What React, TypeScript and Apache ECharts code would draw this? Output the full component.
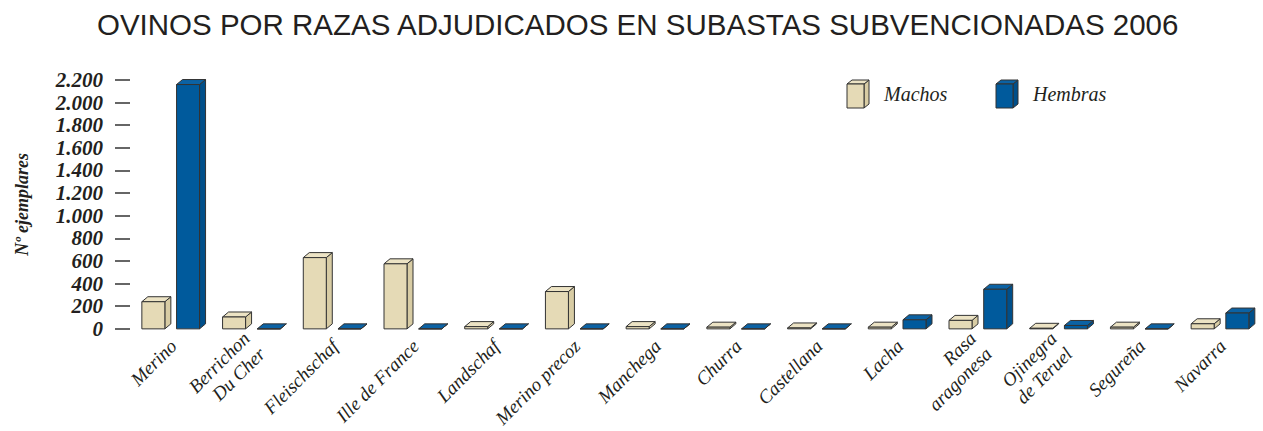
import React, { useEffect, useRef } from "react";
import * as echarts from "echarts";

const categories = [
  "Merino",
  "Berrichon\nDu Cher",
  "Fleischschaf",
  "Ille de France",
  "Landschaf",
  "Merino precoz",
  "Manchega",
  "Churra",
  "Castellana",
  "Lacha",
  "Rasa\naragonesa",
  "Ojinegra\nde Teruel",
  "Segureña",
  "Navarra",
];
const machos = [240, 105, 630, 575, 20, 330, 20, 15, 8, 15, 75, 5, 15, 45];
const hembras = [2160, 0, 0, 0, 0, 0, 0, 0, 0, 80, 350, 30, 0, 140];
const seriesNames = ["Machos", "Hembras"];

const BEIGE = { front: "#E5DAB6", side: "#D8CCA4", top: "#ECE3C4" };
const BLUE = { front: "#005A9C", side: "#004F8A", top: "#0B62A4" };
const STROKE = "#333333";

const BAR_W = 23;
const DX = 6;
const DY = 5;

function makeRender(offset: number, col: { front: string; side: string; top: string }) {
  return (params: any, api: any) => {
    const idx = api.value(0);
    const v = api.value(1);
    const base = api.coord([idx, 0]);
    const top = api.coord([idx, v]);
    const x0 = base[0] + offset;
    const yB = base[1];
    const yT = top[1];
    const w = BAR_W;
    const st = { stroke: STROKE, lineWidth: 1, lineJoin: "round" };
    return {
      type: "group",
      children: [
        {
          type: "polygon",
          shape: { points: [[x0 + w, yB], [x0 + w + DX, yB - DY], [x0 + w + DX, yT - DY], [x0 + w, yT]] },
          style: { ...st, fill: col.side },
        },
        {
          type: "polygon",
          shape: { points: [[x0, yT], [x0 + DX, yT - DY], [x0 + w + DX, yT - DY], [x0 + w, yT]] },
          style: { ...st, fill: col.top },
        },
        {
          type: "rect",
          shape: { x: x0, y: yT, width: w, height: Math.max(yB - yT, 0) },
          style: { ...st, fill: col.front },
        },
      ],
    };
  };
}

function legendBox(x: number, y: number, col: { front: string; side: string; top: string }) {
  const w = 17;
  const h = 24;
  const dx = 5;
  const dy = 4;
  const st = { stroke: STROKE, lineWidth: 1 };
  return [
    {
      type: "polygon",
      shape: { points: [[x + w, y + h], [x + w + dx, y + h - dy], [x + w + dx, y - dy], [x + w, y]] },
      style: { ...st, fill: col.side },
    },
    {
      type: "polygon",
      shape: { points: [[x, y], [x + dx, y - dy], [x + w + dx, y - dy], [x + w, y]] },
      style: { ...st, fill: col.top },
    },
    { type: "rect", shape: { x, y, width: w, height: h }, style: { ...st, fill: col.front } },
  ];
}

export default function App() {
  const ref = useRef<HTMLDivElement>(null);
  useEffect(() => {
    if (!ref.current) return;
    const chart = echarts.init(ref.current, undefined, { renderer: "svg" });
    const serif = "'Liberation Serif', 'DejaVu Serif', serif";
    chart.setOption({
      animation: false,
      backgroundColor: "#ffffff",
      title: {
        text: "OVINOS POR RAZAS ADJUDICADOS EN SUBASTAS SUBVENCIONADAS 2006",
        left: 92,
        top: 4,
        textStyle: {
          fontFamily: "'Liberation Sans', Arial, sans-serif",
          fontSize: 29.5,
          fontWeight: "normal",
          color: "#231f20",
        },
      },
      grid: { left: 133, top: 80, width: 1134, height: 249, containLabel: false },
      xAxis: {
        type: "category",
        data: categories,
        axisLine: { show: false },
        axisTick: { show: false },
        axisLabel: {
          interval: 0,
          rotate: 45,
          margin: 14,
          fontFamily: serif,
          fontStyle: "italic",
          fontSize: 19,
          color: "#231f20",
          lineHeight: 22,
        },
      },
      yAxis: {
        type: "value",
        min: 0,
        max: 2200,
        interval: 200,
        offset: 3,
        name: "Nº ejemplares",
        nameLocation: "middle",
        nameGap: 99,
        nameTextStyle: {
          fontFamily: serif,
          fontStyle: "italic",
          fontWeight: "bold",
          fontSize: 18,
          color: "#231f20",
        },
        splitLine: { show: false },
        axisLine: { show: false },
        axisTick: { show: true, length: 15, lineStyle: { color: "#333", width: 1.5 } },
        axisLabel: {
          margin: 27,
          fontFamily: serif,
          fontStyle: "italic",
          fontWeight: "bold",
          fontSize: 21,
          color: "#231f20",
          formatter: (v: number) => v.toLocaleString("de-DE"),
        },
      },
      series: [
        {
          name: seriesNames[0],
          type: "custom",
          renderItem: makeRender(-31.5, BEIGE),
          data: machos.map((v, i) => [i, v]),
          encode: { x: 0, y: 1 },
        },
        {
          name: seriesNames[1],
          type: "custom",
          renderItem: makeRender(3.2, BLUE),
          data: hembras.map((v, i) => [i, v]),
          encode: { x: 0, y: 1 },
        },
      ],
      graphic: [
        ...legendBox(847, 84, BEIGE),
        {
          type: "text",
          left: 884,
          top: 84,
          style: { text: seriesNames[0], font: `italic 20px ${serif}`, fill: "#231f20" },
        },
        ...legendBox(996, 84, BLUE),
        {
          type: "text",
          left: 1033,
          top: 84,
          style: { text: seriesNames[1], font: `italic 20px ${serif}`, fill: "#231f20" },
        },
      ],
    });
    return () => chart.dispose();
  }, []);
  return (
    <div
      ref={ref}
      style={{ position: "absolute", left: 0, top: 0, width: 1263, height: 431 }}
    />
  );
}
